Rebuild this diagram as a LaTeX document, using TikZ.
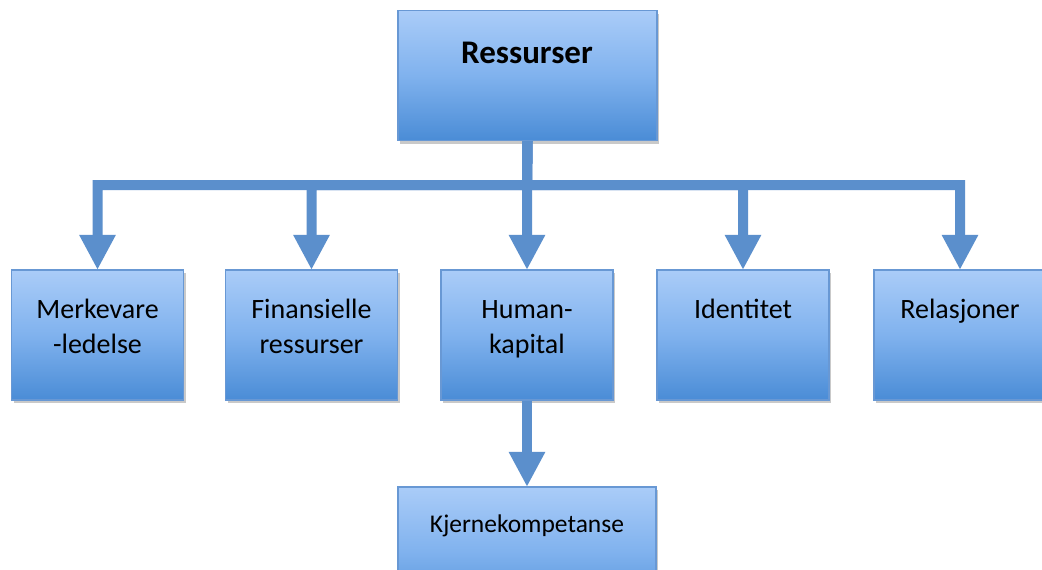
\documentclass[tikz,border=0pt]{standalone}
\usepackage{fontspec}
\setmainfont{Carlito}
\usetikzlibrary{arrows.meta,shadows}
\definecolor{conn}{RGB}{91,143,204}
\definecolor{boxtop}{RGB}{170,204,248}
\definecolor{boxmid}{RGB}{128,178,238}
\definecolor{boxbot}{RGB}{74,140,214}
\definecolor{boxline}{RGB}{104,152,212}
\tikzset{
  box/.style={draw=boxline, line width=1.2pt, top color=boxtop, bottom color=boxbot, middle color=boxmid,
    minimum width=#1, minimum height=130pt, inner sep=0pt,
    drop shadow={shadow xshift=2pt, shadow yshift=-3pt, opacity=0.35, fill=black!60}},
  box/.default=172pt,
  lbl/.style={inner sep=0pt, align=center, font=\fontsize{28}{35}\selectfont},
  conn/.style={draw=conn, line width=10pt, line join=miter},
  arr/.style={conn, -{Triangle[width=34pt,length=35pt]}, shorten >=-0.5pt},
}
\begin{document}
\begin{tikzpicture}[x=1pt,y=-1pt]
\clip (0,0) rectangle (1042,570);
\fill[white] (0,0) rectangle (1042,570);
% boxes
\node[box=259pt] (top) at (527.5,75.5) {};
\node[box] (b1) at (97.5,335) {};
\node[box] (b2) at (311.5,335) {};
\node[box] (b3) at (527,335) {};
\node[box] (b4) at (743,335) {};
\node[box] (b5) at (960,335) {};
\node[box=258pt, minimum height=130pt] (b6) at (527,552) {};
% labels
\node[lbl, anchor=base, font=\fontsize{33}{35}\selectfont\bfseries] (ttop) at (527,63) {Ressurser};
\node[lbl, anchor=base] (t1) at (97.5,353) {Merkevare\\-ledelse};
\node[lbl, anchor=base] (t2) at (311.5,353) {Finansielle\\ressurser};
\node[lbl, anchor=base] (t3) at (527,353) {Human-\\kapital};
\node[lbl, anchor=base] (t4) at (743,318) {Identitet};
\node[lbl, anchor=base] (t5) at (960,318) {Relasjoner};
\node[lbl, anchor=base, font=\fontsize{25.5}{30}\selectfont] (t6) at (527,532) {Kjernekompetanse};
% connectors
\coordinate (bus) at (527,185);
\foreach \b in {b1,b2,b3,b4,b5}{
  \draw[arr] (top.south) -- (bus) -| (\b.north);
}
\draw[arr] (b3.south) -- (b6.north);
\end{tikzpicture}
\end{document}
